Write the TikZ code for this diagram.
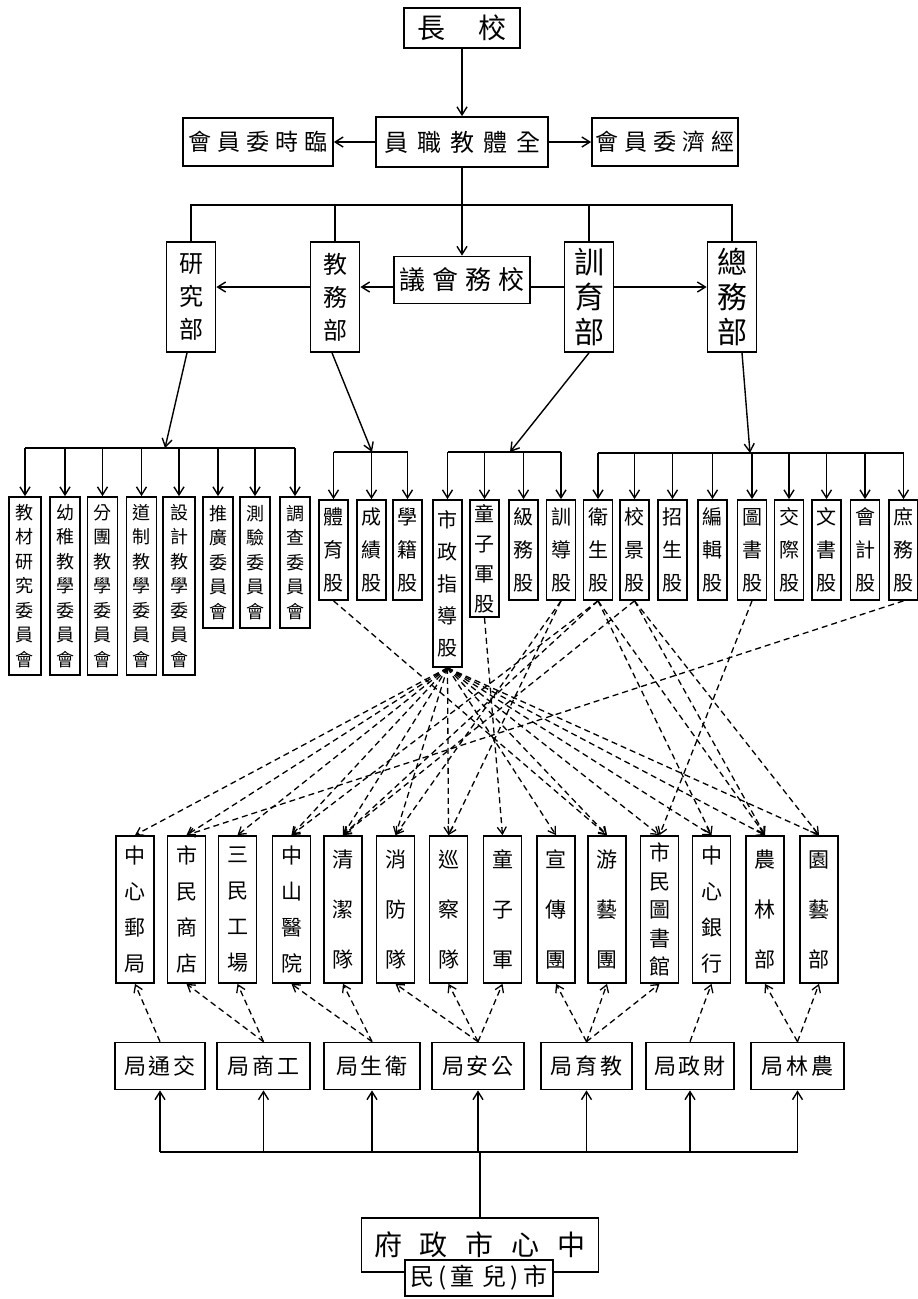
\documentclass[tikz,border=0pt]{standalone}
\usepackage{fontspec}
\newfontfamily\cjk{Noto Sans CJK TC}
\usetikzlibrary{arrows.meta}
\newcommand{\cgap}[1][6pt]{\hspace{#1}}

\tikzset{
  box/.style={draw, line width=1.7pt, inner sep=0pt, align=center, font=\cjk\fontsize{22}{22}\selectfont},
  hbox/.style={box, minimum height=48pt, font=\cjk\fontsize{23}{23}\selectfont},
  bu/.style={box, minimum width=49pt, minimum height=110pt, font=\cjk\fontsize{24}{33}\selectfont},
  bigbu/.style={bu, font=\cjk\fontsize{30}{35}\selectfont},
  wei/.style={box, minimum width=30pt, font=\cjk\fontsize{18}{24.5}\selectfont},
  gu/.style={box, minimum width=29pt, minimum height=100pt, font=\cjk\fontsize{20}{33}\selectfont},
  dan/.style={box, minimum width=38pt, minimum height=147pt},
  dthree/.style={dan, font=\cjk\fontsize{21}{50}\selectfont},
  dfour/.style={dan, font=\cjk\fontsize{21}{36}\selectfont},
  dfive/.style={dan, font=\cjk\fontsize{21}{28.5}\selectfont},
  ju/.style={box, minimum height=47pt},
  link/.style={line width=1.4pt},
  tip/.style={-{Straight Barb[length=8pt,width=10pt]}},
  dl/.style={line width=1.3pt, dash pattern=on 6pt off 4pt, -{Straight Barb[length=7pt,width=9pt]}}
}

\begin{document}
\begin{tikzpicture}[x=1pt,y=-1pt]
    \useasboundingbox (0,0) rectangle (918,1299);

    % top rows
    \node[box, minimum width=116pt, minimum height=40pt, font=\cjk\fontsize{28}{28}\selectfont] (chang) at (462,28) {長\hspace{34pt}校};
    \node[hbox, minimum width=172pt, minimum height=50pt, font=\cjk\fontsize{24}{24}\selectfont] (quanti) at (462,142) {員\cgap[9pt]職\cgap[9pt]教\cgap[9pt]體\cgap[9pt]全};
    \node[hbox, minimum width=150pt] (linshi) at (258,142) {會\cgap 員\cgap 委\cgap 時\cgap 臨};
    \node[hbox, minimum width=146pt] (jingji) at (665,142) {會\cgap 員\cgap 委\cgap 濟\cgap 經};

    \node[bu] (yanjiu) at (191,297) {研\\究\\部};
    \node[bu] (jiaowu) at (335,297) {教\\務\\部};
    \node[box, minimum width=136pt, minimum height=47pt, font=\cjk\fontsize{26}{26}\selectfont] (xiaowu) at (462,280) {議\cgap[7pt]會\cgap[7pt]務\cgap[7pt]校};
    \node[bigbu] (xunyu) at (589,297) {訓\\育\\部};
    \node[bigbu] (zongwu) at (732,297) {總\\務\\部};

    % committees
    \node[wei, minimum width=32pt, minimum height=178pt] (jc) at (25,586) {教\\材\\研\\究\\委\\員\\會};
    \node[wei, minimum height=178pt] (yz) at (65,586) {幼\\稚\\教\\學\\委\\員\\會};
    \node[wei, minimum height=178pt] (ft) at (102.5,586) {分\\團\\教\\學\\委\\員\\會};
    \node[wei, minimum height=178pt] (dz) at (141.5,586) {道\\制\\教\\學\\委\\員\\會};
    \node[wei, minimum width=32pt, minimum height=178pt] (sj) at (179,586) {設\\計\\教\\學\\委\\員\\會};
    \node[wei, minimum height=131pt] (tg) at (218,562.5) {推\\廣\\委\\員\\會};
    \node[wei, minimum height=131pt] (cy) at (255,562.5) {測\\驗\\委\\員\\會};
    \node[wei, minimum height=131pt] (dc) at (295,562.5) {調\\查\\委\\員\\會};

    % sections
    \node[gu] (tiyu) at (333.5,550) {體\\育\\股};
    \node[gu] (chengji) at (371.5,550) {成\\績\\股};
    \node[gu] (xueji) at (407.5,550) {學\\籍\\股};
    \node[gu, minimum height=167pt, font=\cjk\fontsize{20}{32}\selectfont] (shizheng) at (447.5,583.5) {市\\政\\指\\導\\股};
    \node[gu, minimum height=117pt, font=\cjk\fontsize{20}{30}\selectfont] (tongzi) at (484.5,558.5) {童\\子\\軍\\股};
    \node[gu] (jiwu) at (523.5,550) {級\\務\\股};
    \node[gu] (xundao) at (561,550) {訓\\導\\股};
    \node[gu] (weisheng) at (598,550) {衛\\生\\股};
    \node[gu] (xiaojing) at (634.5,550) {校\\景\\股};
    \node[gu] (zhaosheng) at (672.5,550) {招\\生\\股};
    \node[gu] (bianji) at (712.5,550) {編\\輯\\股};
    \node[gu] (tushu) at (752,550) {圖\\書\\股};
    \node[gu] (jiaoji) at (789,550) {交\\際\\股};
    \node[gu] (wenshu) at (826.5,550) {文\\書\\股};
    \node[gu] (kuaiji) at (865,550) {會\\計\\股};
    \node[gu] (shuwu) at (903.5,550) {庶\\務\\股};

    % children's city units
    \node[dfour] (yj) at (135,909.5) {中\\心\\郵\\局};
    \node[dfour] (sd) at (186.5,909.5) {市\\民\\商\\店};
    \node[dfour] (sg) at (237.5,909.5) {三\\民\\工\\場};
    \node[dfour] (yy) at (291.5,909.5) {中\\山\\醫\\院};
    \node[dthree] (qj) at (343,909.5) {清\\潔\\隊};
    \node[dthree] (xf) at (395.5,909.5) {消\\防\\隊};
    \node[dthree] (xc) at (448.5,909.5) {巡\\察\\隊};
    \node[dthree] (tz) at (502.5,909.5) {童\\子\\軍};
    \node[dthree] (xch) at (556,909.5) {宣\\傳\\團};
    \node[dthree] (yyt) at (607,909.5) {游\\藝\\團};
    \node[dfive] (tsg) at (659.5,909.5) {市\\民\\圖\\書\\館};
    \node[dfour] (yh) at (711.5,909.5) {中\\心\\銀\\行};
    \node[dthree] (nl) at (765,909.5) {農\\林\\部};
    \node[dthree] (yyb) at (819,909.5) {園\\藝\\部};

    % bureaus
    \node[ju, minimum width=90pt] (jt) at (160,1066) {局\cgap[3pt]通\cgap[3pt]交};
    \node[ju, minimum width=93pt] (gs) at (263.5,1066) {局\cgap[3pt]商\cgap[3pt]工};
    \node[ju, minimum width=96pt] (ws) at (372,1066) {局\cgap[3pt]生\cgap[3pt]衛};
    \node[ju, minimum width=92pt] (ga) at (478,1066) {局\cgap[3pt]安\cgap[3pt]公};
    \node[ju, minimum width=91pt] (jy) at (586.5,1066) {局\cgap[3pt]育\cgap[3pt]教};
    \node[ju, minimum width=88pt] (cz) at (690,1066) {局\cgap[3pt]政\cgap[3pt]財};
    \node[ju, minimum width=93pt] (nlj) at (797.5,1066) {局\cgap[3pt]林\cgap[3pt]農};

    \node[box, minimum width=237pt, minimum height=54pt, font=\cjk\fontsize{28}{28}\selectfont] (zf) at (480,1245) {府\cgap[18pt]政\cgap[18pt]市\cgap[18pt]心\cgap[18pt]中};
    \node[box, fill=white, minimum width=148pt, minimum height=36pt, font=\cjk\fontsize{24}{24}\selectfont] (sm) at (479,1278) {民\,(\,童\cgap[8pt]兒\,)\,市};

    % solid connectors
    \coordinate (bus) at (462,205);
    \coordinate (mid) at (0,287);
    \draw[link,tip] (chang) -- (quanti);
    \draw[link,tip] (quanti) -- (linshi);
    \draw[link,tip] (quanti) -- (jingji);
    \draw[link,tip] (quanti) -- (xiaowu);
    \draw[link] (yanjiu.north) |- (bus) -| (zongwu.north);
    \draw[link] (jiaowu.north) -- (jiaowu.north |- bus);
    \draw[link] (xunyu.north) -- (xunyu.north |- bus);
    \draw[link,tip] (jiaowu.west |- mid) -- (yanjiu.east |- mid);
    \draw[link,tip] (xiaowu.west |- mid) -- (jiaowu.east |- mid);
    \draw[link] (xiaowu.east |- mid) -- (xunyu.west |- mid);
    \draw[link,tip] (xunyu.east |- mid) -- (zongwu.west |- mid);

    \coordinate (yb) at (165,448);
    \coordinate (jb) at (372,452);
    \coordinate (xb) at (510,452);
    \coordinate (zb) at (750,453);
    \draw[link,tip] ([xshift=-4pt]yanjiu.south) -- (yb);
    \draw[link,tip] ([xshift=-3pt]jiaowu.south) -- (jb);
    \draw[link,tip] (xunyu.south) -- (xb);
    \draw[link,tip] ([xshift=10pt]zongwu.south) -- (zb);

    \draw[link] (jc.north |- yb) -- (dc.north |- yb);
    \draw[link] (tiyu.north |- jb) -- (xueji.north |- jb);
    \draw[link] (shizheng.north |- xb) -- (xundao.north |- xb);
    \draw[link] (weisheng.north |- zb) -- (shuwu.north |- zb);
    \foreach \n in {jc,yz,ft,dz,sj,tg,cy,dc}
      \draw[link,tip] (\n.north |- yb) -- (\n.north);
    \foreach \n in {tiyu,chengji,xueji}
      \draw[link,tip] (\n.north |- jb) -- (\n.north);
    \foreach \n in {shizheng,tongzi,jiwu,xundao}
      \draw[link,tip] (\n.north |- xb) -- (\n.north);
    \foreach \n in {weisheng,xiaojing,zhaosheng,bianji,tushu,jiaoji,wenshu,kuaiji,shuwu}
      \draw[link,tip] (\n.north |- zb) -- (\n.north);

    % government to bureaus
    \coordinate (bb) at (480,1152);
    \draw[link] (jt.south |- bb) -- (nlj.south |- bb);
    \foreach \n in {jt,gs,ws,ga,jy,cz,nlj}
      \draw[link,tip] (\n.south |- bb) -- (\n.south);
    \draw[link] (zf.north) -- (zf.north |- bb);

    % dashed: sections to units
    \foreach \t in {yj,sd,sg,yy,qj,xf,xc,xch,yyt,tsg,yh,nl,yyb}
      \draw[dl] (shizheng.south) -- (\t.north);
    \foreach \s/\t in {tiyu/yyt, tongzi/tz, xundao/xf, xundao/xc, weisheng/yy, weisheng/qj,
        weisheng/yh, weisheng/nl, xiaojing/qj, xiaojing/nl, xiaojing/yyb, tushu/tsg, shuwu/sd}
      \draw[dl] (\s.south) -- (\t.north);

    % dashed: bureaus to units
    \foreach \s/\t in {jt/yj, gs/sd, gs/sg, ws/yy, ws/qj, ga/xf, ga/xc, ga/tz,
        jy/xch, jy/yyt, jy/tsg, cz/yh, nlj/nl, nlj/yyb}
      \draw[dl] (\s.north) -- (\t.south);

\end{tikzpicture}
\end{document}
